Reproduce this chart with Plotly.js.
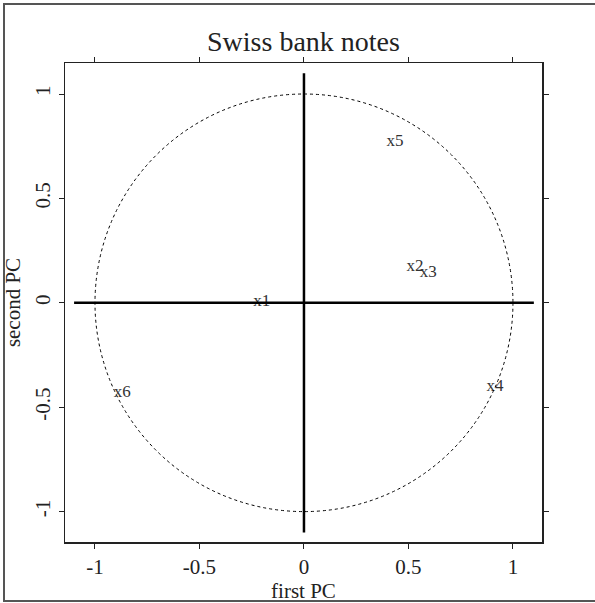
<!DOCTYPE html>
<html>
<head>
<meta charset="utf-8">
<script src="https://cdn.plot.ly/plotly-3.0.1.min.js"></script>
<style>html,body{margin:0;padding:0;background:#fff;}</style>
</head>
<body>
<div id="chart" style="width:595px;height:603px;"></div>
<script>
// Variable labels and their correlations with the first two PCs
var variables = ["x1", "x2", "x3", "x4", "x5", "x6"];
var firstPC  = [-0.202, 0.531, 0.595, 0.914, 0.435, -0.869];
var secondPC = [0.005, 0.173, 0.144, -0.400, 0.772, -0.430];
var tickVals = [-1, -0.5, 0, 0.5, 1];
var tickText = ["-1", "-0.5", "0", "0.5", "1"];

var serif = "Liberation Serif, Times New Roman, serif";
var ink = "#222";

var trace = {
  type: "scatter",
  mode: "text",
  x: firstPC,
  y: secondPC,
  text: variables,
  textposition: "middle center",
  textfont: {family: serif, size: 17, color: "#333"},
  hoverinfo: "none",
  showlegend: false
};

var W = 595, H = 603, ml = 65, mr = 53, mt = 63, mb = 61;
var pw = W - ml - mr, ph = H - mt - mb;
function px2paperX(p) { return (p - ml) / pw; }
function px2paperY(p) { return (H - mb - p) / ph; }

var layout = {
  width: W, height: H,
  margin: {l: ml, r: mr, t: mt, b: mb, pad: 0},
  paper_bgcolor: "#fff",
  plot_bgcolor: "#fff",
  showlegend: false,
  title: {
    text: "Swiss bank notes",
    font: {family: serif, size: 28, color: ink},
    x: 0.5, xref: "paper", xanchor: "center",
    y: 1 - 41 / H, yref: "container", yanchor: "middle"
  },
  xaxis: {
    range: [-1.1435, 1.139],
    tickvals: tickVals, ticktext: tickText,
    ticks: "outside", ticklen: 5, tickwidth: 1, tickcolor: ink,
    showline: true, linecolor: ink, linewidth: 1.5, mirror: "ticks",
    showgrid: false, zeroline: false,
    tickfont: {family: serif, size: 21, color: ink},
    title: {text: "first PC", font: {family: serif, size: 21, color: ink}, standoff: 0}
  },
  yaxis: {
    range: [-1.1456, 1.1485],
    tickvals: tickVals, ticktext: tickText,
    tickangle: -90,
    ticks: "outside", ticklen: 5, tickwidth: 1, tickcolor: ink,
    showline: true, linecolor: ink, linewidth: 1.5, mirror: "ticks",
    showgrid: false, zeroline: false,
    tickfont: {family: serif, size: 21, color: ink},
    title: {text: "second PC", font: {family: serif, size: 21, color: ink}, standoff: 4}
  },
  shapes: [
    {type: "circle", xref: "x", yref: "y", x0: -1, x1: 1, y0: -1, y1: 1,
     line: {color: "#000", width: 1, dash: "3px,3px"}},
    {type: "line", xref: "x", yref: "y", x0: -1.1, x1: 1.1, y0: 0, y1: 0,
     line: {color: "#000", width: 2.5}},
    {type: "line", xref: "x", yref: "y", x0: 0, x1: 0, y0: -1.1, y1: 1.1,
     line: {color: "#000", width: 2.5}},
    {type: "rect", xref: "paper", yref: "paper",
     x0: px2paperX(4), x1: px2paperX(700), y0: px2paperY(601), y1: px2paperY(4),
     line: {color: "#555", width: 2}, layer: "below"}
  ]
};

Plotly.newPlot("chart", [trace], layout, {staticPlot: true, displayModeBar: false});
</script>
</body>
</html>
